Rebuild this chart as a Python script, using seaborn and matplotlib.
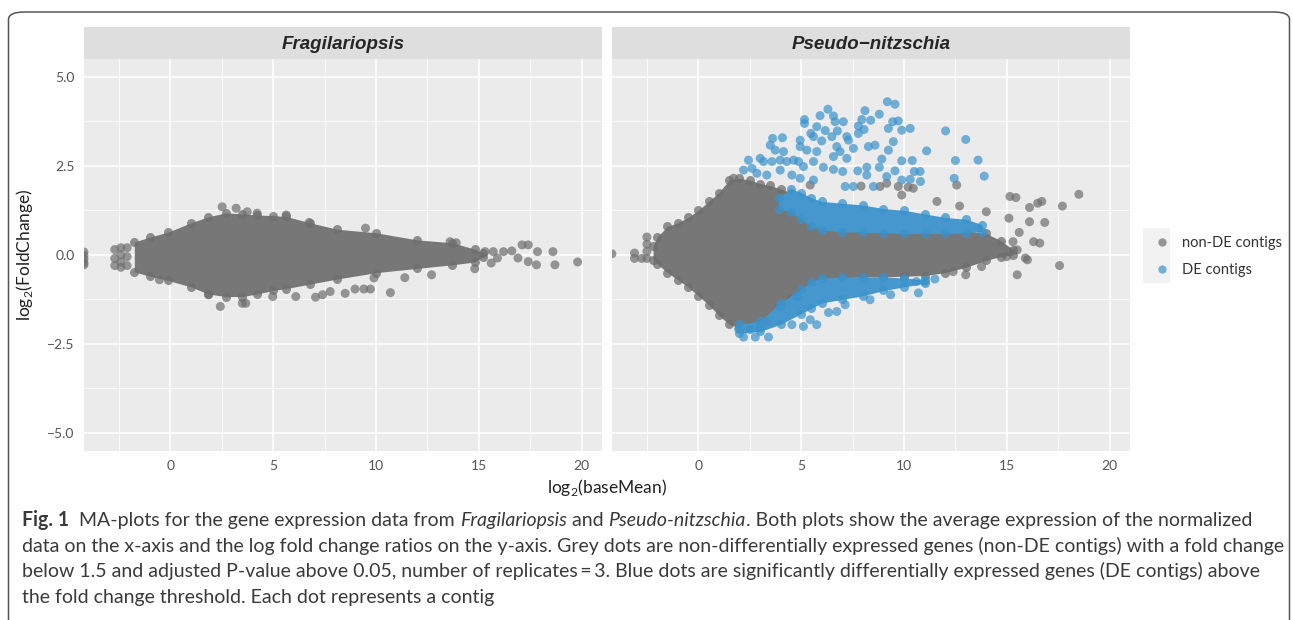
import matplotlib
matplotlib.use('Agg')
import matplotlib.pyplot as plt
from matplotlib.patches import Rectangle, FancyBboxPatch
from matplotlib.lines import Line2D
import seaborn as sns
import pandas as pd

# ---------------- data ----------------
panels = ['Fragilariopsis', 'Pseudo\u2212nitzschia']
groups = ['non-DE contigs', 'DE contigs']

# dense grey cloud, Fragilariopsis: x, lower edge, upper edge
frag_env_x = [-1.75, -1.0, -0.1, 1.0, 1.85, 2.7, 3.5, 4.2, 5.0, 5.6, 6.8, 8.1, 10.0, 12.0, 13.7, 14.8, 15.2]
frag_env_lo = [-0.48, -0.6, -0.72, -0.9, -1.1, -1.17, -1.17, -1.1, -1.0, -0.95, -0.82, -0.68, -0.5, -0.38, -0.28, -0.2, -0.05]
frag_env_hi = [0.36, 0.5, 0.64, 0.9, 1.07, 1.18, 1.15, 1.12, 1.1, 1.08, 0.9, 0.72, 0.62, 0.42, 0.34, 0.16, 0.05]

# dense grey cloud, Pseudo-nitzschia
pn_env_x = [-2.2, -2.0, -1.5, -1.0, -0.5, 0.0, 0.5, 1.0, 1.5, 2.0, 2.5, 3.0, 3.5, 4.0, 4.5, 5.0, 5.5, 6.0,
            7.0, 8.0, 9.0, 10.0, 11.0, 12.0, 13.0, 14.0, 14.7, 15.3]
pn_env_lo = [-0.15, -0.25, -0.5, -0.7, -0.9, -1.15, -1.4, -1.7, -1.95, -2.05, -2.0, -1.95, -1.75, -1.5, -1.25,
             -1.0, -0.85, -0.7, -0.65, -0.62, -0.62, -0.6, -0.58, -0.5, -0.35, -0.15, -0.05, 0.0]
pn_env_hi = [0.25, 0.5, 0.8, 0.9, 1.05, 1.25, 1.5, 1.75, 2.1, 2.15, 2.1, 2.0, 1.95, 1.85, 1.75, 1.5, 1.2, 0.9,
             0.7, 0.68, 0.66, 0.66, 0.66, 0.68, 0.68, 0.6, 0.4, 0.15]

# dense blue bands, Pseudo-nitzschia (up-regulated / down-regulated)
up_x = [3.9, 4.5, 5.0, 5.5, 6.0, 7.0, 8.0, 9.0, 10.0, 11.0, 12.0, 13.0, 13.8]
up_lo = [1.3, 1.2, 1.0, 0.8, 0.7, 0.65, 0.63, 0.62, 0.6, 0.6, 0.6, 0.62, 0.65]
up_hi = [1.6, 1.85, 1.75, 1.6, 1.5, 1.45, 1.4, 1.3, 1.25, 1.15, 1.05, 1.0, 0.85]
dn_x = [2.0, 3.0, 4.0, 5.0, 5.5, 6.0, 7.0, 8.0, 9.0, 10.0, 11.0]
dn_lo = [-2.2, -2.15, -1.95, -1.65, -1.5, -1.35, -1.25, -1.15, -1.0, -0.9, -0.8]
dn_hi = [-1.95, -1.85, -1.35, -0.95, -0.75, -0.65, -0.62, -0.62, -0.62, -0.65, -0.7]

# individual grey contigs outside the dense cloud
frag_x = [-4.2, -4.2, -4.2, -4.2, -4.2, -2.7, -2.7, -2.7, -2.4, -2.4, -2.4, -2.4, -2.1, -2.1, -2.1,
          2.52, 3.2, 3.74, 4.22, 5.63, 6.75, 9.49, 13.6, 13.9, 17.1, 17.4, 17.85, 18.6, 15.3, 15.7, 16.2,
          16.6, 15.9, 15.6, 16.9, 17.4, 17.8, 18.7, 19.8, 14.8, 12.7, -0.53, 1.86, 2.43, 3.5, 3.67, 4.98,
          6.1, 7.06, 7.4, 7.77, 8.5, 8.98, 9.41, 9.73, 10.7, 11.4, 9.9]
frag_y = [0.08, -0.02, -0.12, -0.22, -0.28, 0.15, -0.1, -0.3, 0.2, 0.0, -0.2, -0.35, 0.2, -0.05, -0.3,
          1.35, 1.31, 1.21, 1.17, 1.12, 0.91, 0.75, 0.37, 0.34, 0.28, 0.28, 0.09, 0.09, 0.09, 0.09, 0.09,
          0.11, -0.09, -0.23, -0.09, -0.19, -0.28, -0.28, -0.2, -0.39, -0.56, -0.7, -1.12, -1.45, -1.36,
          -1.36, -1.17, -1.17, -1.19, -1.12, -1.03, -1.08, -0.96, -0.96, -0.96, -1.06, -0.64, -0.65]

pn_grey_x = [-4.2, -3.1, -3.1, -2.75, -2.5, -2.5, -2.5, -2.5, 12.56, 15.15, 15.44, 16.1, 16.5, 16.7, 16.84,
             16.1, 15.1, 16.3, 16.6, 15.6, 15.3, 15.9, 16.0, 15.5, 15.0, 15.5, 13.77, 13.0, 12.39, 8.83,
             9.16, 9.72, 10.2, 10.45, 9.89, 11.6, 12.7, 14.0, 7.91, 5.44, 1.71, 18.5, 17.7, 17.56]
pn_grey_y = [0.03, 0.05, -0.1, -0.1, 0.5, 0.3, 0.1, -0.1, 1.96, 1.64, 1.61, 1.33, 1.45, 1.5, 0.91,
             0.93, 1.03, 0.37, 0.33, 0.63, 0.37, -0.09, -0.14, 0.14, -0.05, -0.56, -0.33, -0.56, -0.47, 1.92,
             2.01, 1.92, 1.9, 1.87, 1.68, 1.5, 1.37, 1.21, 1.93, 1.96, 2.15, 1.7, 1.37, -0.3]

# individual DE contigs (blue)
pn_blue_x = [9.19, 9.56, 6.3, 8.1, 8.8, 5.92, 5.16, 6.57, 7.05, 6.65, 7.95, 8.38, 9.45, 9.72, 5.16, 5.76,
             9.24, 10.3, 9.89, 12.02, 7.78, 6.76, 6.17, 5.47, 4.95, 5.6, 6.0, 6.49, 7.22, 7.3, 7.78, 8.06,
             9.48, 13.0, 3.61, 4.09, 3.5, 3.74, 4.14, 4.95, 5.28, 5.76, 6.73, 6.89, 7.54, 8.27, 8.59, 9.24,
             11.1, 7.22, 6.57, 8.92, 9.89, 10.4, 12.5, 13.6, 2.44, 3.01, 3.17, 3.58, 3.98, 4.3, 4.63, 4.87,
             5.11, 5.6, 6.08, 6.57, 7.02, 7.75, 8.19, 8.8, 9.56, 10.5, 10.78, 12.44, 13.9, 2.2, 2.61, 2.85,
             3.33, 3.98, 4.55, 4.95, 5.6, 8.19, 9.16, 9.89, 10.3, 10.8, 8.51, 7.54, 7.14,
             2.2, 2.77, 3.41, 1.96, 2.52, 2.98, 3.33, 5.11, 5.76, 4.55, 5.44, 6.33, 6.73, 7.14, 8.35, 9.35,
             10.7, 4.79, 3.98, 10.6, 11.0, 11.5]
pn_blue_y = [4.3, 4.23, 4.09, 4.05, 3.95, 3.91, 3.8, 3.9, 3.74, 3.74, 3.8, 3.78, 3.74, 3.76, 3.69, 3.6,
             3.55, 3.55, 3.5, 3.48, 3.62, 3.48, 3.49, 3.41, 3.22, 3.32, 3.2, 3.32, 3.32, 3.22, 3.41, 3.52,
             3.18, 3.24, 3.27, 3.29, 3.08, 2.94, 2.9, 3.04, 2.94, 2.9, 3.04, 2.9, 2.99, 3.04, 3.08, 2.94,
             2.92, 2.71, 2.76, 2.69, 2.64, 2.65, 2.65, 2.66, 2.66, 2.71, 2.62, 2.62, 2.66, 2.62, 2.66, 2.62,
             2.48, 2.62, 2.46, 2.4, 2.34, 2.36, 2.46, 2.46, 2.36, 2.34, 2.34, 2.15, 2.21, 2.38, 2.43, 2.29,
             2.24, 2.38, 2.24, 2.15, 2.1, 2.24, 2.2, 2.1, 2.12, 2.06, 1.92, 1.92, 1.92,
             -2.31, -2.31, -2.31, -2.09, -2.1, -2.06, -1.87, -2.01, -1.96, -1.96, -1.82, -1.62, -1.59, -1.4,
             -1.26, -1.12, -1.07, -1.17, -1.45, -0.75, -0.75, -0.68]

x_ticks = [0, 5, 10, 15, 20]
y_ticks = [-5.0, -2.5, 0.0, 2.5, 5.0]

GREY = '#6e6e6e'
BLUE = '#3a93cd'
palette = {groups[0]: GREY, groups[1]: BLUE}

points = pd.concat([
    pd.DataFrame({'x': frag_x, 'y': frag_y, 'panel': panels[0], 'group': groups[0]}),
    pd.DataFrame({'x': pn_grey_x, 'y': pn_grey_y, 'panel': panels[1], 'group': groups[0]}),
    pd.DataFrame({'x': pn_blue_x, 'y': pn_blue_y, 'panel': panels[1], 'group': groups[1]}),
], ignore_index=True)

# ---------------- style ----------------
sns.set_theme(style='darkgrid', rc={'axes.facecolor': '#EBEBEB', 'grid.color': 'white',
                                     'axes.edgecolor': 'none'})
plt.rcParams['font.family'] = ['Lato', 'DejaVu Sans']
plt.rcParams['mathtext.fontset'] = 'custom'
plt.rcParams['mathtext.rm'] = 'Lato'

W, H = 1293, 620
fig = plt.figure(figsize=(W / 100, H / 100), dpi=100)


def px_rect(l, t, r, b):
    return [l / W, 1 - b / H, (r - l) / W, (b - t) / H]


# outer frame of the figure box (top-left at 8.5,12 px, bottom runs off the page)
fig.add_artist(FancyBboxPatch((8.5 / W, -10 / H), 1281 / W, 618 / H,
                              boxstyle='round,pad=0,rounding_size=0.012',
                              transform=fig.transFigure, fill=False, edgecolor='#555555', lw=1.1))

ax_pos = [(83.7, 602.3), (611.7, 1130.3)]
axes = []
for i, (l, r) in enumerate(ax_pos):
    ax = fig.add_axes(px_rect(l, 59, r, 450.7))
    axes.append(ax)
    sub = points[points['panel'] == panels[i]]
    if i == 0:
        ex, lo, hi = frag_env_x, frag_env_lo, frag_env_hi
    else:
        ex, lo, hi = pn_env_x, pn_env_lo, pn_env_hi
    # dense part of the cloud
    ax.fill_between(ex, lo, hi, color='#777777', lw=0, zorder=2)
    sns.scatterplot(x=ex + ex, y=lo + hi, color=GREY, alpha=0.75, s=42, linewidth=0, ax=ax, zorder=3)
    if i == 1:
        ax.fill_between(up_x, up_lo, up_hi, color='#4597cd', lw=0, zorder=4)
        ax.fill_between(dn_x, dn_lo, dn_hi, color='#4597cd', lw=0, zorder=4)
        sns.scatterplot(x=up_x + up_x + dn_x + dn_x, y=up_lo + up_hi + dn_lo + dn_hi, color=BLUE,
                        alpha=0.75, s=42, linewidth=0, ax=ax, zorder=5)
    sns.scatterplot(data=sub, x='x', y='y', hue='group', palette=palette, alpha=0.7, s=42,
                    linewidth=0, ax=ax, legend=False, zorder=6)

    ax.set_xlim(-4.21, 21.0)
    ax.set_ylim(-5.5, 5.5)
    ax.set_xticks(x_ticks)
    ax.set_yticks(y_ticks)
    ax.set_xticks([-2.5, 2.5, 7.5, 12.5, 17.5], minor=True)
    ax.set_yticks([-3.75, -1.25, 1.25, 3.75], minor=True)
    ax.grid(which='major', color='white', lw=1.1)
    ax.grid(which='minor', color='white', lw=0.55)
    ax.set_axisbelow(True)
    ax.set_xticklabels([str(t) for t in x_ticks])
    ax.tick_params(axis='both', which='major', length=3.5, width=1, color='#333333',
                   labelcolor='#555555', labelsize=10, pad=3)
    ax.tick_params(which='minor', length=0)
    ax.set_xlabel('')
    ax.set_ylabel('')
    for s in ax.spines.values():
        s.set_visible(False)
    if i == 0:
        ax.set_yticklabels(['\u22125.0', '\u22122.5', '0.0', '2.5', '5.0'])
    else:
        ax.tick_params(axis='y', left=False, labelleft=False)

    # facet strip
    strip = fig.add_axes(px_rect(l, 27.3, r, 59))
    strip.set_facecolor('#DEDEDE')
    strip.set_xticks([])
    strip.set_yticks([])
    strip.grid(False)
    for s in strip.spines.values():
        s.set_visible(False)
    strip.text(0.5, 0.45, panels[i], ha='center', va='center', fontsize=13.5, fontweight='bold',
               fontstyle='italic', family=['Liberation Sans', 'DejaVu Sans'], color='#262626',
               transform=strip.transAxes)

axes[0].set_ylabel(r'log$_\mathregular{2}$(FoldChange)', fontsize=12.5, color='#222222')
axes[0].yaxis.set_label_coords((35 - 83.7) / 518.6, 0.5)
fig.text(607 / W, 1 - 488 / H, r'log$_\mathregular{2}$(baseMean)', ha='center', va='center',
         fontsize=12.5, color='#222222')

# legend
for k, yk in enumerate([228.5, 256]):
    fig.add_artist(Rectangle((1143 / W, 1 - (yk + 27) / H), 27 / W, 27 / H, transform=fig.transFigure,
                             facecolor='#F2F2F2', edgecolor='none'))
handles = [Line2D([], [], ls='', marker='o', markersize=6, markeredgewidth=0, color=palette[g], alpha=0.7)
           for g in groups]
fig.legend(handles, groups, loc='upper left', bbox_to_anchor=(1146 / W, 1 - 226 / H), frameon=False,
           fontsize=10.5, handlelength=0.8, handletextpad=1.0, labelspacing=0.85, borderpad=0.2,
           labelcolor='#333333')

# caption
caption = [
    [('Fig. 1', 'bold', 'normal'), ('  MA-plots for the gene expression data from ', 'normal', 'normal'),
     ('Fragilariopsis', 'normal', 'italic'), (' and ', 'normal', 'normal'),
     ('Pseudo-nitzschia', 'normal', 'italic'),
     ('. Both plots show the average expression of the normalized', 'normal', 'normal')],
    [('data on the x-axis and the log fold change ratios on the y-axis. Grey dots are non-differentially '
      'expressed genes (non-DE contigs) with a fold change', 'normal', 'normal')],
    [('below 1.5 and adjusted P-value above 0.05, number of replicates\u2009=\u20093. Blue dots are '
      'significantly differentially expressed genes (DE contigs) above', 'normal', 'normal')],
    [('the fold change threshold. Each dot represents a contig', 'normal', 'normal')],
]
baselines = [526, 552, 577.5, 603]
renderer = fig.canvas.get_renderer()


def draw_line(runs, y, size):
    x = 22
    made = []
    for txt, wt, st in runs:
        t = fig.text(x / W, 1 - y / H, txt, fontsize=size, fontweight=wt, fontstyle=st,
                     color='#3a3a3a', va='baseline', ha='left')
        x += t.get_window_extent(renderer).width
        made.append(t)
    return x - 22, made


w, made = draw_line(caption[1], baselines[1], 12)
for t in made:
    t.remove()
size = 12 * 1261 / w
for runs, y in zip(caption, baselines):
    draw_line(runs, y, size)

fig.savefig('out.png', dpi=100)
